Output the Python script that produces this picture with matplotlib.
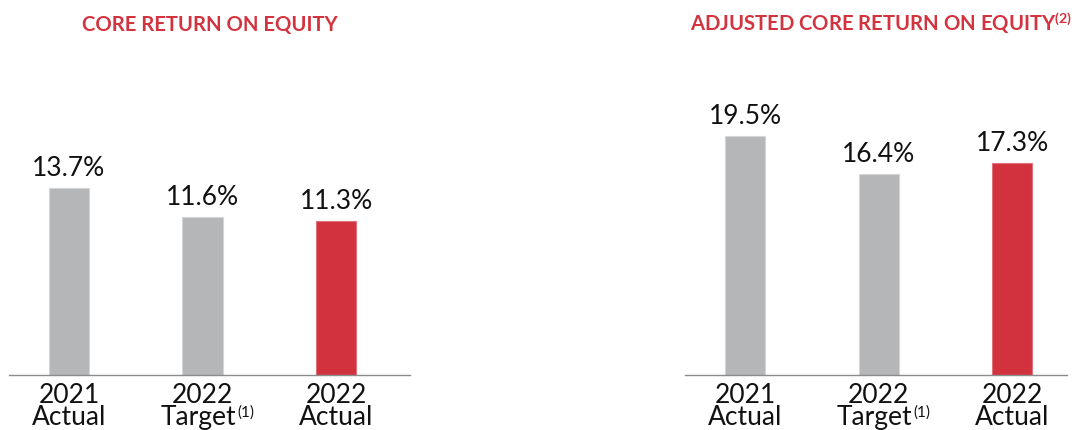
import matplotlib
matplotlib.use("Agg")
import matplotlib.pyplot as plt

plt.rcParams["font.family"] = ["Lato", "DejaVu Sans"]
plt.rcParams["mathtext.fontset"] = "custom"
plt.rcParams["mathtext.rm"] = "Lato"
plt.rcParams["mathtext.it"] = "Lato:italic"
plt.rcParams["mathtext.bf"] = "Lato:bold"

cat_years = ["2021", "2022", "2022"]
cat_kinds = ["Actual", "Target", "Actual"]
cat_notes = ["", "(1)", ""]
core_roe = [13.7, 11.6, 11.3]
adjusted_core_roe = [19.5, 16.4, 17.3]
value_labels_core = ["13.7%", "11.6%", "11.3%"]
value_labels_adj = ["19.5%", "16.4%", "17.3%"]

GRAY = "#B5B6B8"
RED = "#D1323D"
TITLE_RED = "#D3333F"
INK = "#111111"

fig = plt.figure(figsize=(10.75, 4.3), dpi=100)
W, H = 1075, 430

LINE1 = -28   # baseline offset (px) of the year line
LINE2 = -50   # baseline offset (px) of the Actual/Target line
NOTE = -42    # baseline offset (px) of the footnote marker


def axes_px(x0, x1, ytop, ybot):
    return fig.add_axes([x0 / W, 1 - ybot / H, (x1 - x0) / W, (ybot - ytop) / H])


ax1 = axes_px(9, 410, 60, 375)
ax2 = axes_px(685, 1067, 60, 375)

pending_notes = []


def draw(ax, values, labels, px_per_unit, xlim):
    colors = [GRAY, GRAY, RED]
    x = list(range(len(values)))
    ax.bar(x, values, width=0.30, color=colors,
           edgecolor=["#D4D5D6", "#D4D5D6", "#E0707A"], linewidth=0.8)
    ax.set_xlim(*xlim)
    ax.set_ylim(0, 315 / px_per_unit)
    for xi, v, lab in zip(x, values, labels):
        ax.annotate(lab, (xi, v), xytext=(0, 12), textcoords="offset pixels",
                    ha="center", va="baseline", fontsize=19, color=INK)
    # two-line category labels under the baseline
    for xi, yr, kind, note in zip(x, cat_years, cat_kinds, cat_notes):
        ax.annotate(yr, (xi, 0), xytext=(0, LINE1), textcoords="offset pixels",
                    ha="center", va="baseline", fontsize=19, color=INK,
                    annotation_clip=False)
        t = ax.annotate(kind, (xi, 0), xytext=(0, LINE2), textcoords="offset pixels",
                        ha="center", va="baseline", fontsize=19, color=INK,
                        annotation_clip=False)
        if note:
            n = ax.annotate(note, (xi, 0), xytext=(0, NOTE), textcoords="offset pixels",
                            ha="left", va="baseline", fontsize=11, color=INK,
                            annotation_clip=False)
            pending_notes.append((t, n))
    ax.set_xticks([])
    ax.set_yticks([])
    for s in ["top", "left", "right"]:
        ax.spines[s].set_visible(False)
    ax.spines["bottom"].set_color("#8C8C8C")
    ax.spines["bottom"].set_linewidth(1.0)


draw(ax1, core_roe, value_labels_core, 13.65, (-0.449, 2.554))
draw(ax2, adjusted_core_roe, value_labels_adj, 12.25, (-0.449, 2.41))

fig.text(210 / W, 1 - 31 / H, "CORE RETURN ON EQUITY", ha="center", va="baseline",
         fontsize=14.6, fontweight="bold", color=TITLE_RED)
fig.text(690 / W, 1 - 31 / H, "ADJUSTED CORE RETURN ON EQUITY$^{\\mathbf{(2)}}$",
         ha="left", va="baseline", fontsize=14.6, fontweight="bold", color=TITLE_RED)

# place the footnote marker right after "Target", nudging the pair slightly left
fig.canvas.draw()
renderer = fig.canvas.get_renderer()
for t, n in pending_notes:
    wt = t.get_window_extent(renderer).width
    wn = n.get_window_extent(renderer).width
    shift = -wn / 4
    t.set_position((shift, LINE2))
    n.set_position((shift + wt / 2 + 1, NOTE))

fig.savefig("out.png", dpi=100)
